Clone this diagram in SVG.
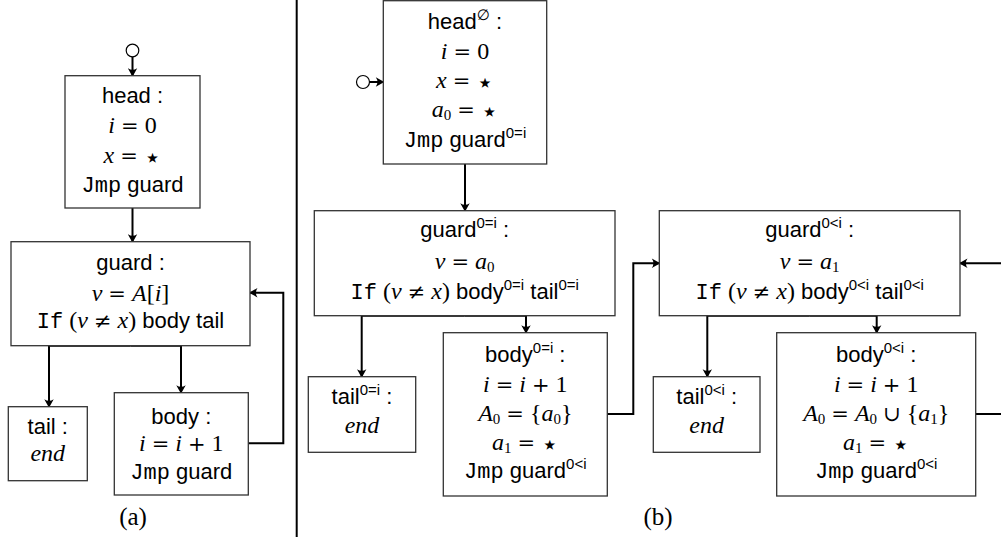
<svg xmlns="http://www.w3.org/2000/svg" width="1001" height="537" viewBox="0 0 1001 537">
<defs>
<style>
.box{fill:#fff;stroke:#333;stroke-width:1.3}
.e{fill:none;stroke:#000;stroke-width:2}
.ea{fill:none;stroke:#000;stroke-width:2;marker-end:url(#ah)}
.t{font-family:"Liberation Sans","DejaVu Sans",sans-serif;font-size:22px;text-anchor:middle;fill:#000}
.m{font-family:"Liberation Serif","DejaVu Serif",serif;font-style:normal;font-size:24px}
.mi{font-family:"Liberation Serif","DejaVu Serif",serif;font-style:italic}
.op{font-family:"DejaVu Serif",serif;font-style:normal;font-size:21px}
.tt{font-family:"Liberation Mono","DejaVu Sans Mono",monospace}
.s{font-size:15px}
.st{font-family:"DejaVu Sans",sans-serif;font-size:28px;font-style:normal}
.cap{font-family:"Liberation Serif","DejaVu Serif",serif;font-size:25px;text-anchor:middle}
</style>
<marker id="ah" viewBox="-9 -5 11 10" markerWidth="11" markerHeight="10" refX="0" refY="0" orient="auto" markerUnits="userSpaceOnUse">
<path d="M1,0 L-7.5,-4.7 Q-4.2,0 -7.5,4.7 Z" fill="#000"/>
</marker>
</defs>
<line x1="296.7" y1="0" x2="296.7" y2="537" stroke="#000" stroke-width="2"/>
<g id="connectors">
<circle cx="132.5" cy="50.5" r="6.3" fill="#fff" stroke="#000" stroke-width="1.2"/>
<path class="ea" d="M132.5,56.8 V75.7"/>
<path class="ea" d="M132.5,208 V241.7"/>
<path class="ea" d="M130.5,345.7 H49 V406.7"/>
<path class="ea" d="M130.5,345.7 H181 V392.7"/>
<path class="ea" d="M248.3,443.3 H283.3 V292.7 H250"/>
<circle cx="363" cy="82" r="6.5" fill="#fff" stroke="#000" stroke-width="1.2"/>
<path class="ea" d="M369.5,82 H383.3"/>
<path class="ea" d="M465,164 V210.7"/>
<path class="ea" d="M464.7,315.7 H361.7 V376.7"/>
<path class="ea" d="M464.7,315.7 H526 V332.7"/>
<path class="ea" d="M607.3,414 H633.3 V263.3 H659.3"/>
<path class="ea" d="M809.7,315.7 H707.3 V376.7"/>
<path class="ea" d="M809.7,315.7 H876.7 V332.7"/>
<path class="ea" d="M1003,263.3 H960"/>
<path class="e" d="M975.7,414 H1003"/>
</g>
<g id="head-a">
<rect class="box" x="65" y="75.7" width="135" height="132.3"/>
<text class="t" x="132.5" y="103">head :</text>
<text class="t m" x="132.5" y="133"><tspan class="mi">i</tspan>&#8197;<tspan class="op">=</tspan>&#8197;0</text>
<text class="t m" x="132.5" y="163"><tspan class="mi">x</tspan>&#8197;<tspan class="op">=</tspan>&#8197;<tspan class="st" dy="4">⋆</tspan></text>
<text class="t" x="132.5" y="191.5"><tspan class="tt">Jmp</tspan> guard</text>
</g>
<g id="guard-a">
<rect class="box" x="11" y="241.7" width="239" height="104"/>
<text class="t" x="130.5" y="269.5">guard :</text>
<text class="t m" x="130.5" y="300.5"><tspan class="mi">v</tspan>&#8197;<tspan class="op">=</tspan>&#8197;<tspan class="mi">A</tspan>[<tspan class="mi">i</tspan>]</text>
<text class="t" x="130.5" y="327.7"><tspan class="tt">If</tspan> <tspan class="m">(<tspan class="mi">v</tspan>&#8197;<tspan class="op">≠</tspan>&#8197;<tspan class="mi">x</tspan>)</tspan> body tail</text>
</g>
<g id="tail-a">
<rect class="box" x="8.3" y="406.7" width="79" height="74"/>
<text class="t" x="47.8" y="434">tail :</text>
<text class="t m mi" x="47.8" y="461">end</text>
</g>
<g id="body-a">
<rect class="box" x="114.3" y="392.7" width="134" height="102.3"/>
<text class="t" x="181.3" y="423.5">body :</text>
<text class="t m" x="181.3" y="451"><tspan class="mi">i</tspan>&#8197;<tspan class="op">=</tspan>&#8197;<tspan class="mi">i</tspan>&#8197;<tspan class="op">+</tspan>&#8197;1</text>
<text class="t" x="181.3" y="478.5"><tspan class="tt">Jmp</tspan> guard</text>
</g>
<text class="cap" x="133" y="525">(a)</text>
<g id="head-b">
<rect class="box" x="383.3" y="0.7" width="163.4" height="163.3"/>
<text class="t" x="465" y="29.3">head<tspan class="s" dy="-9">∅</tspan><tspan dy="9"> :</tspan></text>
<text class="t m" x="465" y="59.3"><tspan class="mi">i</tspan>&#8197;<tspan class="op">=</tspan>&#8197;0</text>
<text class="t m" x="465" y="87.5"><tspan class="mi">x</tspan>&#8197;<tspan class="op">=</tspan>&#8197;<tspan class="st" dy="4">⋆</tspan></text>
<text class="t m" x="465" y="117"><tspan class="mi">a</tspan><tspan class="s" dy="3">0</tspan><tspan dy="-3">&#8197;</tspan><tspan class="op">=</tspan>&#8197;<tspan class="st" dy="4">⋆</tspan></text>
<text class="t" x="465" y="146.5"><tspan class="tt">Jmp</tspan> guard<tspan class="s" dy="-9">0=i</tspan></text>
</g>
<g id="guard-0eqi">
<rect class="box" x="314.3" y="210.7" width="300.7" height="105"/>
<text class="t" x="464.7" y="237">guard<tspan class="s" dy="-9">0=i</tspan><tspan dy="9"> :</tspan></text>
<text class="t m" x="464.7" y="269"><tspan class="mi">v</tspan>&#8197;<tspan class="op">=</tspan>&#8197;<tspan class="mi">a</tspan><tspan class="s" dy="3">0</tspan></text>
<text class="t" x="464.7" y="299"><tspan class="tt">If</tspan> <tspan class="m">(<tspan class="mi">v</tspan>&#8197;<tspan class="op">≠</tspan>&#8197;<tspan class="mi">x</tspan>)</tspan> body<tspan class="s" dy="-9">0=i</tspan><tspan dy="9"> tail</tspan><tspan class="s" dy="-9">0=i</tspan></text>
</g>
<g id="tail-0eqi">
<rect class="box" x="308.3" y="376.7" width="107.4" height="75.6"/>
<text class="t" x="362" y="404">tail<tspan class="s" dy="-9">0=i</tspan><tspan dy="9"> :</tspan></text>
<text class="t m mi" x="362" y="433">end</text>
</g>
<g id="body-0eqi">
<rect class="box" x="443.3" y="332.7" width="164" height="163.3"/>
<text class="t" x="525.3" y="361.7">body<tspan class="s" dy="-9">0=i</tspan><tspan dy="9"> :</tspan></text>
<text class="t m" x="525.3" y="391.7"><tspan class="mi">i</tspan>&#8197;<tspan class="op">=</tspan>&#8197;<tspan class="mi">i</tspan>&#8197;<tspan class="op">+</tspan>&#8197;1</text>
<text class="t m" x="525.3" y="421"><tspan class="mi">A</tspan><tspan class="s" dy="3">0</tspan><tspan dy="-3">&#8197;</tspan><tspan class="op">=</tspan>&#8197;{<tspan class="mi">a</tspan><tspan class="s" dy="3">0</tspan><tspan dy="-3">}</tspan></text>
<text class="t m" x="525.3" y="450"><tspan class="mi">a</tspan><tspan class="s" dy="3">1</tspan><tspan dy="-3">&#8197;</tspan><tspan class="op">=</tspan>&#8197;<tspan class="st" dy="4">⋆</tspan></text>
<text class="t" x="525.3" y="478"><tspan class="tt">Jmp</tspan> guard<tspan class="s" dy="-9">0&lt;i</tspan></text>
</g>
<g id="guard-0lti">
<rect class="box" x="659.3" y="210.7" width="300.7" height="105"/>
<text class="t" x="809.7" y="237">guard<tspan class="s" dy="-9">0&lt;i</tspan><tspan dy="9"> :</tspan></text>
<text class="t m" x="809.7" y="269"><tspan class="mi">v</tspan>&#8197;<tspan class="op">=</tspan>&#8197;<tspan class="mi">a</tspan><tspan class="s" dy="3">1</tspan></text>
<text class="t" x="809.7" y="299"><tspan class="tt">If</tspan> <tspan class="m">(<tspan class="mi">v</tspan>&#8197;<tspan class="op">≠</tspan>&#8197;<tspan class="mi">x</tspan>)</tspan> body<tspan class="s" dy="-9">0&lt;i</tspan><tspan dy="9"> tail</tspan><tspan class="s" dy="-9">0&lt;i</tspan></text>
</g>
<g id="tail-0lti">
<rect class="box" x="653.3" y="376.7" width="106.7" height="75.6"/>
<text class="t" x="706.7" y="404">tail<tspan class="s" dy="-9">0&lt;i</tspan><tspan dy="9"> :</tspan></text>
<text class="t m mi" x="706.7" y="433">end</text>
</g>
<g id="body-0lti">
<rect class="box" x="776.7" y="332.7" width="199" height="163.3"/>
<text class="t" x="876.2" y="361.7">body<tspan class="s" dy="-9">0&lt;i</tspan><tspan dy="9"> :</tspan></text>
<text class="t m" x="876.2" y="391.7"><tspan class="mi">i</tspan>&#8197;<tspan class="op">=</tspan>&#8197;<tspan class="mi">i</tspan>&#8197;<tspan class="op">+</tspan>&#8197;1</text>
<text class="t m" x="876.2" y="421"><tspan class="mi">A</tspan><tspan class="s" dy="3">0</tspan><tspan dy="-3">&#8197;</tspan><tspan class="op">=</tspan>&#8197;<tspan class="mi">A</tspan><tspan class="s" dy="3">0</tspan><tspan dy="-3">&#8197;</tspan><tspan class="op">∪</tspan>&#8197;{<tspan class="mi">a</tspan><tspan class="s" dy="3">1</tspan><tspan dy="-3">}</tspan></text>
<text class="t m" x="876.2" y="450"><tspan class="mi">a</tspan><tspan class="s" dy="3">1</tspan><tspan dy="-3">&#8197;</tspan><tspan class="op">=</tspan>&#8197;<tspan class="st" dy="4">⋆</tspan></text>
<text class="t" x="876.2" y="478"><tspan class="tt">Jmp</tspan> guard<tspan class="s" dy="-9">0&lt;i</tspan></text>
</g>
<text class="cap" x="658" y="525">(b)</text>
</svg>
